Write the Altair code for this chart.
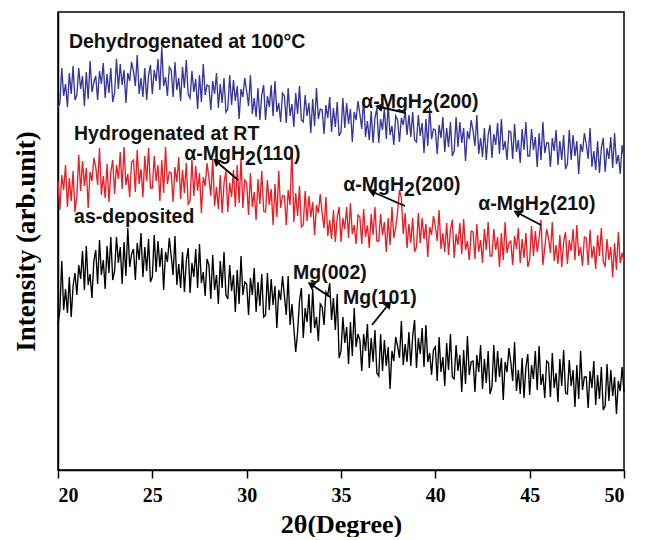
import math
import altair as alt
import pandas as pd

# 2-theta grid, 20.0 .. 50.0 in 0.1 degree steps
two_theta = [round(20 + i * 0.1, 1) for i in range(301)]

# Dehydrogenated at 100 C (blue)
dehydro = [
    362, 367, 402, 374, 386, 363, 397, 376, 404, 370,
    375, 402, 381, 394, 364, 398, 371, 409, 378, 388,
    394, 370, 399, 386, 407, 372, 396, 377, 402, 368,
    377, 411, 381, 406, 385, 400, 367, 397, 389, 408,
    399, 384, 415, 376, 392, 373, 402, 370, 395, 405,
    376, 400, 389, 411, 380, 423, 384, 393, 374, 403,
    400, 373, 408, 380, 392, 369, 403, 382, 410, 376,
    372, 399, 378, 391, 361, 395, 368, 406, 375, 385,
    384, 360, 389, 376, 397, 362, 386, 367, 392, 358,
    361, 395, 365, 390, 369, 384, 351, 381, 373, 392,
    379, 364, 395, 356, 372, 353, 382, 350, 375, 385,
    350, 374, 363, 385, 354, 389, 358, 367, 348, 377,
    374, 347, 382, 354, 366, 343, 377, 356, 384, 350,
    348, 375, 354, 367, 337, 371, 344, 382, 351, 361,
    360, 336, 365, 352, 373, 338, 362, 343, 368, 334,
    338, 372, 342, 367, 346, 361, 328, 358, 350, 369,
    356, 341, 372, 333, 349, 330, 359, 327, 352, 362,
    327, 351, 340, 362, 331, 366, 335, 344, 325, 354,
    350, 328, 352, 345, 360, 335, 355, 333, 358, 330,
    328, 355, 334, 347, 317, 351, 324, 362, 331, 341,
    340, 316, 345, 332, 353, 318, 342, 323, 348, 314,
    319, 353, 323, 348, 327, 342, 309, 339, 331, 350,
    339, 324, 355, 316, 332, 313, 342, 310, 335, 345,
    312, 336, 325, 347, 316, 351, 320, 329, 310, 339,
    338, 311, 346, 318, 330, 307, 341, 320, 348, 314,
    314, 341, 320, 333, 303, 337, 310, 348, 317, 327,
    327, 303, 332, 319, 340, 305, 329, 310, 335, 301,
    306, 340, 310, 335, 314, 329, 296, 326, 318, 337,
    326, 311, 342, 303, 319, 300, 329, 297, 322, 332,
    298, 322, 311, 333, 302, 337, 306, 315, 296, 325,
    312,
]

# Hydrogenated at RT (red)
hydro = [
    289, 260, 295, 280, 305, 263, 292, 269, 299, 258,
    274, 315, 279, 309, 284, 302, 262, 298, 289, 312,
    303, 285, 322, 275, 294, 272, 306, 268, 298, 310,
    276, 305, 291, 318, 281, 323, 285, 296, 273, 308,
    310, 278, 320, 286, 301, 273, 314, 289, 322, 282,
    282, 314, 289, 305, 269, 310, 277, 323, 286, 298,
    297, 268, 303, 288, 313, 271, 300, 277, 307, 266,
    269, 310, 274, 304, 279, 297, 257, 293, 284, 307,
    292, 274, 311, 264, 283, 261, 295, 257, 287, 299,
    258, 287, 273, 300, 263, 305, 267, 312, 262, 290,
    287, 255, 297, 263, 278, 250, 291, 266, 299, 259,
    258, 290, 265, 281, 245, 286, 253, 299, 262, 274,
    274, 245, 280, 265, 322, 248, 277, 254, 284, 243,
    245, 279, 249, 274, 253, 268, 235, 265, 257, 276,
    257, 242, 273, 234, 250, 231, 260, 228, 253, 263,
    228, 252, 241, 263, 232, 267, 236, 245, 226, 255,
    253, 226, 261, 233, 245, 222, 256, 235, 263, 229,
    229, 256, 235, 248, 218, 252, 225, 263, 232, 242,
    258, 280, 272, 236, 257, 222, 246, 227, 252, 218,
    223, 257, 227, 252, 231, 246, 213, 243, 235, 254,
    244, 229, 260, 221, 237, 218, 247, 215, 240, 250,
    212, 236, 225, 247, 216, 251, 220, 229, 210, 239,
    238, 211, 246, 218, 230, 207, 241, 220, 248, 214,
    214, 241, 220, 233, 203, 237, 210, 248, 217, 227,
    229, 205, 234, 221, 242, 207, 231, 212, 237, 203,
    210, 244, 214, 239, 218, 232, 250, 205, 222, 241,
    232, 217, 248, 209, 225, 206, 235, 203, 228, 238,
    206, 230, 219, 241, 210, 245, 214, 223, 204, 233,
    232, 205, 240, 212, 224, 201, 235, 214, 242, 208,
    204, 231, 210, 223, 193, 227, 200, 238, 207, 217,
    208,
]

# as-deposited (black)
asdep = [
    145, 160, 209, 160, 181, 157, 193, 153, 184, 197,
    175, 205, 191, 219, 180, 224, 185, 196, 172, 209,
    220, 186, 230, 195, 210, 181, 224, 197, 233, 190,
    199, 233, 207, 223, 186, 228, 194, 242, 203, 216,
    221, 190, 227, 210, 237, 193, 223, 199, 231, 188,
    193, 235, 198, 229, 203, 222, 180, 218, 208, 232,
    214, 195, 234, 185, 206, 182, 218, 178, 209, 222,
    177, 207, 193, 221, 182, 226, 187, 198, 174, 211,
    205, 171, 215, 180, 195, 166, 209, 182, 218, 175,
    171, 205, 179, 195, 158, 200, 166, 214, 175, 188,
    186, 155, 192, 175, 202, 158, 188, 164, 196, 153,
    155, 197, 160, 191, 165, 184, 142, 180, 170, 194,
    174, 155, 194, 145, 166, 142, 118, 138, 169, 182,
    132, 162, 148, 176, 137, 181, 142, 153, 129, 166,
    163, 145, 178, 175, 187, 150, 172, 140, 176, 112,
    119, 153, 127, 143, 106, 148, 114, 162, 123, 136,
    130, 99, 136, 119, 146, 102, 132, 108, 140, 97,
    94, 136, 99, 130, 104, 123, 81, 119, 109, 133,
    124, 112, 149, 105, 126, 108, 138, 104, 134, 150,
    102, 132, 116, 142, 103, 145, 108, 117, 95, 120,
    123, 89, 133, 98, 113, 84, 127, 100, 136, 93,
    91, 125, 99, 115, 78, 120, 86, 134, 95, 108,
    109, 78, 115, 98, 125, 81, 111, 87, 119, 76,
    83, 125, 88, 119, 93, 112, 70, 108, 98, 122,
    108, 89, 128, 79, 100, 76, 112, 72, 103, 116,
    75, 105, 91, 119, 80, 124, 85, 96, 72, 109,
    107, 73, 117, 82, 97, 68, 111, 84, 120, 77,
    76, 110, 84, 100, 63, 105, 71, 119, 80, 93,
    93, 62, 99, 82, 109, 65, 95, 71, 103, 60,
    64, 106, 69, 100, 74, 93, 56, 89, 79, 103,
    78,
]

series_names = ["Dehydrogenated", "Hydrogenated", "as-deposited"]
series_colors = ["#36369c", "#ee1c25", "#000000"]

# plain annotations
plain_text = ["Dehydrogenated at 100°C", "Hydrogenated at RT", "as-deposited", "Mg(002)", "Mg(101)"]
plain_x = [20.58, 20.85, 20.85, 32.46, 35.11]
plain_y = [422, 330, 247, 191, 166]

# alpha-MgH2 annotations (x, y = end of "α-MgH" at baseline)
mgh_x = [39.29, 29.91, 38.34, 45.49]
mgh_y = [362, 310, 279, 260]
mgh_suffix = ["(200)", "(110)", "(200)", "(210)"]

# arrows: tail -> head
arr_x1 = [38.445, 29.541, 38.392, 45.601, 34.417, 36.643]
arr_y1 = [357, 290, 264, 245, 173, 145]
arr_x2 = [37.067, 28.428, 36.696, 44.382, 33.463, 37.491]
arr_y2 = [363, 308, 278, 257, 185, 165]

W, H = 566, 458
XD = [20, 50]
YD = [0, 458]

rows = []
for name, vals in zip(series_names, [dehydro, hydro, asdep]):
    for t, v in zip(two_theta, vals):
        rows.append({"x": t, "y": v, "series": name})
df = pd.DataFrame(rows)

sx = W / (XD[1] - XD[0])
sy = H / (YD[1] - YD[0])
angles = []
for a, b, c, d in zip(arr_x1, arr_y1, arr_x2, arr_y2):
    dx = (c - a) * sx
    dys = -(d - b) * sy
    angles.append(math.degrees(math.atan2(dx, -dys)) % 360)
arrows = pd.DataFrame({"x": arr_x1, "y": arr_y1, "x2": arr_x2, "y2": arr_y2, "angle": angles})
heads = pd.DataFrame({"x": arr_x2, "y": arr_y2, "angle": angles})
plain = pd.DataFrame({"x": plain_x, "y": plain_y, "t": plain_text})
mgh = pd.DataFrame({"x": mgh_x, "y": mgh_y, "s": mgh_suffix, "a": ["α-MgH"] * 4, "two": ["2"] * 4})

xs = alt.Scale(domain=XD, nice=False, zero=False)
ys = alt.Scale(domain=YD, nice=False, zero=False)

xaxis = alt.Axis(values=[20, 25, 30, 35, 40, 45, 50], title="2θ(Degree)", tickSize=8,
                 labelPadding=7, titlePadding=6, labelFont="Liberation Serif", labelFontSize=20,
                 labelFontWeight="bold", titleFont="Liberation Serif", titleFontSize=26,
                 titleFontWeight="bold", grid=False, domainWidth=1.5, tickWidth=1.5)
yaxis = alt.Axis(title="Intensity (arb.unit)", ticks=False, labels=False, titlePadding=18,
                 titleFont="Liberation Serif", titleFontSize=27, titleFontWeight="bold",
                 grid=False, domainWidth=1.5)

lines = alt.Chart(df).mark_line(strokeWidth=1.35).encode(
    x=alt.X("x:Q", scale=xs, axis=xaxis),
    y=alt.Y("y:Q", scale=ys, axis=yaxis),
    color=alt.Color("series:N", scale=alt.Scale(domain=series_names, range=series_colors), legend=None),
    detail="series:N",
)

rules = alt.Chart(arrows).mark_rule(color="black", strokeWidth=1.8).encode(
    x=alt.X("x:Q", scale=xs), y=alt.Y("y:Q", scale=ys), x2="x2:Q", y2="y2:Q")

tips = alt.Chart(heads).mark_point(shape="triangle", filled=True, color="black", size=75, opacity=1).encode(
    x=alt.X("x:Q", scale=xs), y=alt.Y("y:Q", scale=ys), angle=alt.Angle("angle:Q", scale=None))

font = dict(font="Liberation Sans", fontWeight="bold", fontSize=19.5, color="#111111", baseline="alphabetic")

plain_txt = alt.Chart(plain).mark_text(align="left", **font).encode(
    x=alt.X("x:Q", scale=xs), y=alt.Y("y:Q", scale=ys), text="t:N")
mgh_a = alt.Chart(mgh).mark_text(align="right", **font).encode(
    x=alt.X("x:Q", scale=xs), y=alt.Y("y:Q", scale=ys), text="a:N")
mgh_2 = alt.Chart(mgh).mark_text(align="left", dy=5, **font).encode(
    x=alt.X("x:Q", scale=xs), y=alt.Y("y:Q", scale=ys), text="two:N")
mgh_b = alt.Chart(mgh).mark_text(align="left", dx=11, **font).encode(
    x=alt.X("x:Q", scale=xs), y=alt.Y("y:Q", scale=ys), text="s:N")

chart = alt.layer(lines, rules, tips, plain_txt, mgh_a, mgh_2, mgh_b).properties(
    width=W, height=H, padding={"left": 4, "top": 4, "right": 5, "bottom": 0}
).configure_view(stroke="black", strokeWidth=1.5).configure_axis(
    domainColor="black", tickColor="black", labelColor="black", titleColor="black"
)

chart.save("out.html", embed_options={"renderer": "svg", "actions": False})
